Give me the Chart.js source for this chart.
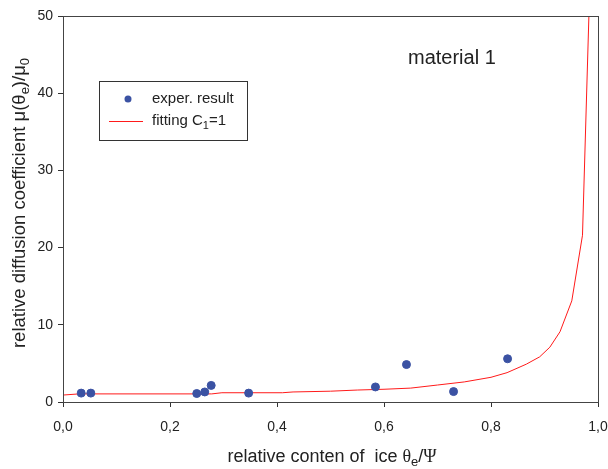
<!DOCTYPE html>
<html>
<head>
<meta charset="utf-8">
<title>material 1</title>
<script src="https://cdn.jsdelivr.net/npm/chart.js@4.4.1/dist/chart.umd.min.js"></script>
<style>
  html, body { margin: 0; padding: 0; background: #fff; }
  #wrap { width: 608px; height: 469px; }
</style>
</head>
<body>
<div id="wrap"><canvas id="the-graph"></canvas></div>
<script>
// measured points
var expX = [0.034, 0.052, 0.250, 0.265, 0.277, 0.347, 0.584, 0.642, 0.730, 0.831];
var expY = [1.15, 1.15, 1.10, 1.30, 2.15, 1.15, 1.95, 4.85, 1.35, 5.60];

// fitted curve, C1 = 1
var fitX = [0.000, 0.030, 0.278, 0.297, 0.410, 0.430, 0.500, 0.550, 0.600, 0.650,
            0.700, 0.750, 0.800, 0.830, 0.866, 0.891, 0.910, 0.929, 0.951, 0.971, 0.983];
var fitY = [0.90, 1.05, 1.05, 1.20, 1.20, 1.30, 1.40, 1.55, 1.65, 1.80,
            2.20, 2.60, 3.20, 3.80, 4.90, 5.85, 7.10, 9.10, 13.10, 21.60, 50.00];

var xTicks = [0, 0.2, 0.4, 0.6, 0.8, 1.0];
var yTicks = [0, 10, 20, 30, 40, 50];

var SANS = '"Liberation Sans", Arial, sans-serif';
var SERIF = '"Liberation Serif", "Times New Roman", serif';
var INK = '#222';
var DOT = '#3b52a3';
var RED = '#ff1a1a';

function pairs(xs, ys) {
  var out = [];
  for (var i = 0; i < xs.length; i++) out.push({ x: xs[i], y: ys[i] });
  return out;
}

// text with subscripts: parts = [[text, isSub, family], ...]
function richText(ctx, parts, x, y, size, align) {
  var subSize = Math.round(size * 0.7);
  var w = 0, i, p;
  for (i = 0; i < parts.length; i++) {
    p = parts[i];
    ctx.font = (p[1] ? subSize : size) + 'px ' + (p[2] || SANS);
    w += ctx.measureText(p[0]).width;
  }
  var cx = align === 'center' ? x - w / 2 : x;
  ctx.textAlign = 'left';
  ctx.textBaseline = 'middle';
  for (i = 0; i < parts.length; i++) {
    p = parts[i];
    ctx.font = (p[1] ? subSize : size) + 'px ' + (p[2] || SANS);
    ctx.fillText(p[0], cx, p[1] ? y + size * 0.3 : y);
    cx += ctx.measureText(p[0]).width;
  }
}

var decor = {
  id: 'decor',
  afterDraw: function (chart) {
    var ctx = chart.ctx, a = chart.chartArea;
    ctx.save();

    // frame
    ctx.strokeStyle = '#444';
    ctx.lineWidth = 1;
    ctx.strokeRect(a.left + 0.5, a.top + 0.5, a.right - a.left, a.bottom - a.top);

    ctx.fillStyle = INK;

    // axis titles
    richText(ctx, [['relative conten of  ice ', false], ['\u03b8', false, SERIF], ['e', true],
                   ['/', false], ['\u03a8', false, SERIF]], 332, 457, 18, 'center');

    ctx.save();
    ctx.translate(20, 203);
    ctx.rotate(-Math.PI / 2);
    richText(ctx, [['relative diffusion coefficient ', false], ['\u03bc(\u03b8', false],
                   ['e', true], [')/\u03bc', false], ['0', true]], 0, 0, 18.5, 'center');
    ctx.restore();

    // annotation
    ctx.font = '20px ' + SANS;
    ctx.textAlign = 'left';
    ctx.textBaseline = 'middle';
    ctx.fillText('material 1', 408, 58);

    // legend box
    ctx.strokeStyle = '#333';
    ctx.strokeRect(99.5, 81.5, 148, 59);
    ctx.fillStyle = DOT;
    ctx.beginPath();
    ctx.arc(128, 99, 3.5, 0, Math.PI * 2);
    ctx.fill();
    ctx.strokeStyle = RED;
    ctx.beginPath();
    ctx.moveTo(109, 121.5);
    ctx.lineTo(143, 121.5);
    ctx.stroke();
    ctx.fillStyle = INK;
    richText(ctx, [['exper. result', false]], 152, 99, 15, 'left');
    richText(ctx, [['fitting C', false], ['1', true], ['=1', false]], 152, 121, 15, 'left');

    ctx.restore();
  }
};

function tickOpts() {
  return {
    display: true,
    drawOnChartArea: false,
    drawTicks: true,
    tickLength: 5,
    tickColor: '#333',
    color: '#333'
  };
}

new Chart(document.getElementById('the-graph'), {
  data: {
    datasets: [
      {
        type: 'line',
        label: 'fitting C1=1',
        data: pairs(fitX, fitY),
        borderColor: RED,
        borderWidth: 1,
        pointRadius: 0,
        tension: 0,
        fill: false,
        order: 2
      },
      {
        type: 'scatter',
        label: 'exper. result',
        data: pairs(expX, expY),
        backgroundColor: DOT,
        borderColor: DOT,
        pointRadius: 4,
        pointHoverRadius: 4,
        order: 1
      }
    ]
  },
  options: {
    responsive: true,
    maintainAspectRatio: false,
    animation: false,
    layout: { padding: { left: 0, right: 10, top: 16, bottom: 0 } },
    plugins: {
      legend: { display: false },
      tooltip: { enabled: false }
    },
    scales: {
      x: {
        type: 'linear',
        min: 0,
        max: 1,
        afterFit: function (s) {
          s.height = 67;
          s.paddingLeft = 0;
          s.paddingRight = 0;
        },
        afterBuildTicks: function (s) { s.ticks = xTicks.map(function (v) { return { value: v }; }); },
        grid: tickOpts(),
        border: { display: true, color: '#333', width: 1 },
        ticks: {
          color: INK,
          padding: 12,
          maxRotation: 0,
          font: { family: SANS, size: 14 },
          callback: function (v) { return v.toFixed(1).replace('.', ','); }
        }
      },
      y: {
        type: 'linear',
        min: 0,
        max: 50,
        afterFit: function (s) {
          s.width = 63;
          s.paddingTop = 0;
          s.paddingBottom = 0;
        },
        afterBuildTicks: function (s) { s.ticks = yTicks.map(function (v) { return { value: v }; }); },
        grid: tickOpts(),
        border: { display: true, color: '#333', width: 1 },
        ticks: {
          color: INK,
          padding: 5,
          font: { family: SANS, size: 14 },
          callback: function (v) { return String(v); }
        }
      }
    }
  },
  plugins: [decor]
});
</script>
</body>
</html>
